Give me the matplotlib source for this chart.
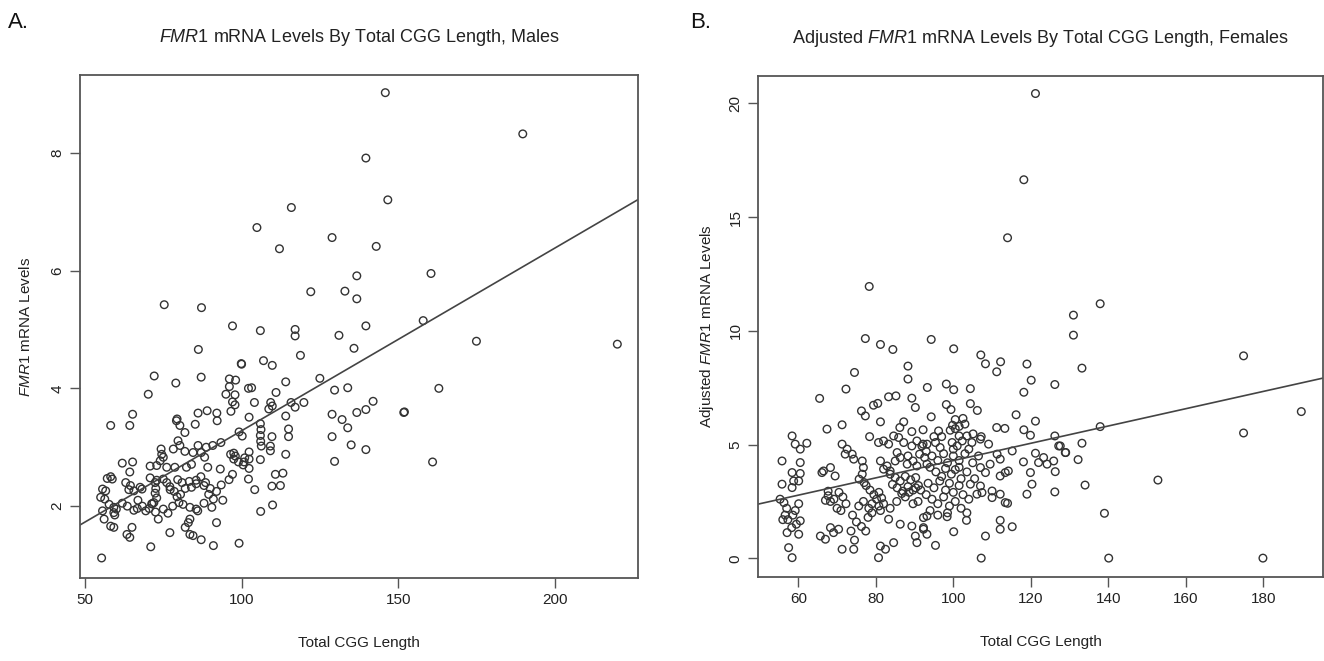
import matplotlib
matplotlib.use("Agg")
import matplotlib.pyplot as plt
import numpy as np

plt.rcParams['font.family'] = ['Liberation Sans', 'DejaVu Sans']
plt.rcParams['mathtext.fontset'] = 'custom'
plt.rcParams['mathtext.rm'] = 'Liberation Sans'
plt.rcParams['mathtext.it'] = 'Liberation Sans:italic'

# ---------------- Panel A: males ----------------
male_cgg = [
    145.9, 189.8, 139.7, 146.7, 115.9, 104.9, 128.9, 143.0, 112.1, 136.8, 122.1, 133.0, 136.8,
    106.0, 117.1, 117.1, 139.7, 131.1, 135.9, 118.8, 107.0, 109.8, 100.0, 114.1, 125.0, 103.2,
    111.0, 129.7, 133.9, 104.1, 109.3, 109.8, 115.8, 117.1, 119.9, 142.0, 139.7, 136.8, 128.9,
    151.8, 114.1, 108.7, 102.4, 132.1, 133.9, 128.9, 135.0, 139.7, 129.7, 115.0, 115.0, 109.7,
    106.0, 106.2, 106.0, 106.1, 106.3, 114.1, 106.0, 109.2, 109.2, 102.4, 102.4, 100.8, 102.4,
    102.2, 97.5, 98.0, 110.8, 113.2, 109.7, 112.4, 104.2, 109.9, 106.1, 99.2,
    75.3, 87.2, 97.1, 86.2, 99.9, 72.1, 87.1, 79.0, 96.1, 98.1, 96.1, 95.0, 97.9, 70.2, 97.1,
    97.9, 65.2, 86.1, 89.0, 92.1, 96.6, 102.2, 79.4, 58.2, 64.3, 79.2, 80.3, 81.9, 85.2, 92.2,
    99.2, 100.2, 79.7, 80.3, 74.3, 74.5, 75.0, 74.0, 78.2, 81.9, 86.1, 88.7, 90.8, 93.4, 84.5,
    87.1, 88.2, 96.5, 97.5, 99.0, 100.5, 101.0, 61.9, 65.2, 70.8, 72.9, 76.1, 78.7, 82.4, 84.0,
    89.2, 93.2, 97.1, 64.3, 57.1, 58.7, 58.2, 63.0, 64.5, 64.0, 65.6, 67.6, 68.2, 70.8, 72.4,
    72.9, 75.0, 76.1, 77.1, 79.6, 81.0, 83.3, 85.5, 87.0, 88.5, 72.6, 72.4, 72.9, 72.0, 71.5,
    77.2, 78.5, 79.4, 80.5, 82.0, 84.0, 85.5, 88.0, 90.0, 92.0, 89.5, 91.0, 93.5, 96.0, 55.6,
    56.6, 56.3, 57.7, 55.0, 59.2, 59.2, 60.0, 59.5, 55.6, 56.1, 61.9, 63.5, 66.9, 65.6, 66.7,
    68.3, 69.4, 70.5, 71.3, 72.5, 75.0, 76.5, 78.0, 80.0, 81.3, 83.5, 85.5, 86.0, 83.5, 83.0,
    82.0, 83.5, 73.4, 58.2, 59.2, 65.0, 63.4, 64.3, 77.1, 71.0, 84.5, 87.1, 91.0, 55.3, 88.0,
    90.5, 92.0, 94.0,
    160.5, 158.0, 175.0, 163.0, 161.0, 152.0, 220.0,
]
male_mrna = [
    9.02, 8.32, 7.91, 7.20, 7.07, 6.73, 6.56, 6.41, 6.37, 5.91, 5.64, 5.65, 5.52,
    4.98, 5.00, 4.89, 5.06, 4.90, 4.68, 4.56, 4.47, 4.39, 4.41, 4.11, 4.17, 4.01,
    3.93, 3.97, 4.01, 3.76, 3.76, 3.70, 3.76, 3.68, 3.76, 3.78, 3.64, 3.59, 3.56,
    3.59, 3.53, 3.65, 3.51, 3.47, 3.33, 3.18, 3.04, 2.96, 2.76, 3.31, 3.18, 3.18,
    3.40, 3.30, 3.20, 3.10, 3.02, 2.88, 2.79, 2.94, 3.02, 2.92, 2.80, 2.75, 2.64,
    2.46, 2.90, 2.85, 2.54, 2.56, 2.34, 2.35, 2.28, 2.02, 1.91, 1.37,
    5.42, 5.37, 5.06, 4.66, 4.42, 4.21, 4.19, 4.09, 4.16, 4.14, 4.03, 3.90, 3.89, 3.90, 3.77,
    3.72, 3.56, 3.58, 3.62, 3.58, 3.61, 4.00, 3.48, 3.37, 3.37, 3.45, 3.37, 3.25, 3.39, 3.45,
    3.26, 3.19, 3.11, 3.03, 2.97, 2.88, 2.83, 2.77, 2.97, 2.93, 3.03, 3.00, 3.03, 3.08, 2.91,
    2.91, 2.83, 2.88, 2.80, 2.75, 2.70, 2.82, 2.73, 2.75, 2.68, 2.69, 2.66, 2.66, 2.66, 2.71,
    2.66, 2.63, 2.54, 2.58, 2.47, 2.46, 2.50, 2.40, 2.35, 2.28, 2.26, 2.32, 2.29, 2.48, 2.40,
    2.44, 2.46, 2.40, 2.33, 2.45, 2.40, 2.42, 2.44, 2.50, 2.40, 2.30, 2.22, 2.14, 2.06, 2.04,
    2.28, 2.25, 2.16, 2.20, 2.30, 2.32, 2.38, 2.35, 2.30, 2.25, 2.20, 2.12, 2.36, 2.45, 2.29,
    2.26, 2.12, 2.03, 2.15, 1.98, 1.89, 1.95, 1.85, 1.92, 1.78, 2.05, 2.00, 2.10, 1.93, 1.96,
    2.00, 1.92, 1.96, 2.04, 1.90, 1.95, 1.88, 2.00, 2.06, 2.03, 1.98, 1.95, 1.92, 1.78, 1.72,
    1.64, 1.52, 1.78, 1.66, 1.64, 1.64, 1.52, 1.47, 1.55, 1.31, 1.50, 1.43, 1.33, 1.12, 2.05,
    1.98, 1.72, 2.10,
    5.95, 5.15, 4.80, 4.00, 2.75, 3.60, 4.75,
]
male_fit = [0.18, 0.031]   # intercept, slope

# ---------------- Panel B: females ----------------
female_cgg = [
    121.2, 118.2, 114.0, 78.3, 137.9, 131.0, 131.0, 133.2, 174.9, 189.8, 137.9, 174.9, 127.6,
    133.2, 129.0, 132.2, 134.0, 152.8, 139.0, 140.1, 179.9, 94.3, 100.1, 107.1, 108.3, 112.2,
    111.2, 119.0, 120.1, 118.2, 126.2, 93.3, 98.2, 100.1, 104.4, 98.2, 99.4, 104.4, 106.2,
    94.3, 116.2, 121.2, 100.5, 102.5, 103.0, 99.8, 101.5, 100.5, 92.2, 96.2, 99.2, 111.2,
    113.3, 118.2, 119.9, 105.1, 107.2, 126.2, 95.0, 97.0, 101.5, 103.5, 77.3, 81.2, 84.4,
    88.3, 88.3, 74.5, 72.3, 65.5, 83.3, 85.2, 89.3, 79.4, 80.5, 90.2, 76.3, 77.3, 81.2, 87.2,
    86.2, 89.3, 71.3, 67.4, 58.4, 78.4, 84.6, 85.9,
    59.2, 60.5, 62.2, 55.8, 60.5, 58.4, 60.5, 58.8, 60.1, 58.4, 55.8, 71.3, 72.6, 73.9, 72.1,
    74.3, 66.5, 68.3, 66.1, 69.5, 76.5, 76.8, 76.5, 75.7, 77.0, 81.2, 82.0, 83.7, 82.9, 80.7,
    82.0, 83.3, 87.2, 89.3, 90.6, 91.9, 93.2, 85.5, 86.3, 85.0, 88.3, 89.6, 91.3, 92.6, 88.1,
    90.6, 93.2, 83.7, 85.0, 86.3, 87.6, 89.0, 90.3, 84.3, 85.5, 87.0, 88.3, 89.6, 91.0, 77.5,
    78.5, 79.5, 80.8, 80.2, 81.5, 79.0, 80.8, 82.0, 70.5, 71.5, 72.3, 69.2, 70.0, 71.0, 67.7,
    67.7, 68.3, 67.0, 55.3, 56.3, 57.0, 56.6, 56.0, 57.3, 58.6, 59.2, 60.1, 60.5, 59.5, 58.3,
    57.1, 60.1, 57.5, 58.4, 65.7, 67.0, 68.3, 69.1, 70.4, 71.3, 74.3, 74.0, 75.0, 76.3, 77.4,
    78.0, 73.6, 74.5, 81.2, 82.5, 80.7, 84.6, 83.3, 86.3, 89.3, 90.2, 90.6, 92.3, 93.2, 78.2,
    79.0, 76.8, 75.6, 81.2, 83.7, 85.4, 87.6, 89.6, 90.9, 91.6, 90.3, 88.6, 86.7,
    92.2, 95.4, 96.6, 99.7, 101.0, 102.3, 104.8, 107.0, 109.1, 115.2, 121.2, 123.3, 125.9,
    127.2, 128.9, 122.0, 124.2, 118.1, 119.9, 119.0, 120.3, 126.3, 126.2, 107.0, 108.3, 109.5,
    111.3, 112.1, 112.1, 113.4, 114.2, 104.4, 107.0, 107.4, 106.1, 110.0, 110.0, 112.1, 113.4,
    114.0, 103.4, 100.1, 108.3, 112.1, 112.1, 115.2, 107.2, 98.4, 95.4, 93.2, 92.3, 92.3,
    93.0, 94.5, 96.0, 97.5, 98.5, 100.0, 101.5, 103.0, 94.0, 95.5, 97.0, 98.0, 99.5, 100.5,
    102.0, 103.5, 105.0, 93.5, 95.0, 96.5, 98.0, 99.0, 100.0, 101.5, 102.5, 104.0, 93.0, 94.5,
    96.0, 97.5, 99.0, 100.5, 102.0, 103.5, 94.0, 96.0, 98.5, 100.0, 101.5, 105.5, 106.5, 104.0,
]
female_mrna = [
    20.43, 16.64, 14.09, 11.95, 11.19, 10.69, 9.81, 8.36, 8.90, 6.45, 5.79, 5.51, 4.94,
    5.06, 4.65, 4.34, 3.22, 3.44, 1.98, 0.01, 0.01, 9.62, 9.21, 8.94, 8.55, 8.64,
    8.20, 8.54, 7.83, 7.30, 7.64, 7.51, 7.66, 7.41, 7.46, 6.76, 6.54, 6.80, 6.50,
    6.22, 6.31, 6.03, 6.10, 6.15, 5.90, 5.85, 5.80, 5.70, 5.65, 5.60, 5.63, 5.75,
    5.71, 5.65, 5.41, 5.47, 5.35, 5.38, 5.35, 5.35, 5.38, 5.38, 9.66, 9.40, 9.18,
    8.45, 7.88, 8.17, 7.44, 7.03, 7.10, 7.14, 7.04, 6.73, 6.81, 6.63, 6.48, 6.26, 6.00, 6.00,
    5.75, 5.57, 5.87, 5.68, 5.38, 5.35, 5.38, 5.31,
    5.02, 4.80, 5.06, 4.28, 4.21, 3.77, 3.73, 3.40, 3.40, 3.11, 3.26, 5.02, 4.80, 4.58, 4.58,
    4.36, 3.84, 3.99, 3.77, 3.62, 4.28, 3.99, 3.70, 3.48, 3.33, 4.28, 3.92, 3.84, 4.06, 5.09,
    5.16, 5.02, 5.09, 4.94, 5.16, 4.94, 5.02, 4.65, 4.43, 4.28, 4.50, 4.28, 4.58, 4.43, 4.14,
    4.06, 4.14, 3.70, 3.55, 3.40, 3.60, 3.45, 3.55, 3.25, 3.10, 2.95, 3.15, 3.00, 3.20, 3.20,
    3.00, 2.80, 2.90, 2.60, 2.65, 2.40, 2.30, 2.40, 2.90, 2.70, 2.40, 2.60, 2.20, 2.10, 2.95,
    2.75, 2.50, 2.55, 2.60, 2.45, 2.20, 1.90, 1.70, 1.70, 1.90, 2.10, 2.40, 1.65, 1.50, 1.35,
    1.13, 1.06, 0.47, 0.03, 0.98, 0.84, 1.35, 1.13, 1.28, 0.40, 0.40, 1.90, 1.60, 1.40, 1.20,
    1.80, 1.20, 0.80, 0.54, 0.40, 0.03, 0.69, 1.72, 1.50, 1.42, 0.98, 0.69, 1.28, 1.86, 2.20,
    2.00, 2.50, 2.30, 2.10, 2.20, 2.50, 2.70, 2.40, 2.50, 3.00, 3.10, 2.90, 2.85,
    5.02, 5.09, 4.87, 5.09, 4.94, 5.16, 5.09, 5.24, 5.02, 4.72, 4.62, 4.43, 4.28,
    4.94, 4.65, 4.21, 4.14, 4.24, 3.77, 2.82, 3.26, 3.81, 2.92, 3.99, 3.77, 4.14,
    4.58, 4.36, 3.62, 3.77, 3.84, 3.26, 3.18, 2.89, 2.82, 2.96, 2.67, 2.82, 2.45,
    2.42, 1.67, 1.17, 0.98, 1.67, 1.28, 1.39, 0.01, 1.83, 0.57, 1.06, 1.35, 1.79,
    4.70, 4.50, 4.30, 4.60, 4.20, 4.50, 4.30, 4.60, 4.00, 3.80, 3.60, 3.95, 3.70, 3.90,
    3.50, 3.80, 4.20, 3.30, 3.10, 3.40, 3.00, 3.30, 2.90, 3.20, 2.80, 2.60, 2.80, 2.60,
    2.40, 2.70, 2.30, 2.50, 2.20, 2.00, 2.10, 1.90, 2.00, 4.80, 4.00, 3.50, 4.50, 4.80,
]
female_fit = [0.497, 0.038]

W, H = 1324, 661
fig = plt.figure(figsize=(W / 100, H / 100), dpi=100)

def px_axes(x0, y0, x1, y1):
    return fig.add_axes([x0 / W, 1 - y1 / H, (x1 - x0) / W, (y1 - y0) / H])

axA = px_axes(80, 75, 638, 578)
axB = px_axes(758, 76, 1323, 577)

edge = '#333333'

def style(ax):
    for s in ax.spines.values():
        s.set_color('#555555')
        s.set_linewidth(1.3)
    ax.tick_params(direction='out', length=7, width=1.0, color='#555555',
                   labelsize=11, labelcolor='#222222', pad=4)
    for lab in ax.get_yticklabels():
        lab.set_rotation(90)
        lab.set_va('center')

# Panel A
axA.scatter(male_cgg, male_mrna, s=30, facecolors='none', edgecolors=edge, linewidths=1.0)
xl = np.array([48.4, 226.6])
axA.plot(xl, male_fit[0] + male_fit[1] * xl, color='#444444', lw=1.2)
axA.set_xlim(48.4, 226.6)
axA.set_ylim(0.78, 9.32)
axA.set_xticks([50, 100, 150, 200])
axA.set_yticks([2, 4, 6, 8])
style(axA)
axA.set_xlabel('Total CGG Length', fontsize=11, labelpad=21, color='#222222')
axA.set_ylabel(r'$\it{FMR}$1 mRNA Levels', fontsize=11, labelpad=13, color='#222222')
axA.set_title(r'$\it{FMR}$1 mRNA Levels By Total CGG Length, Males', fontsize=13, pad=24,
              color='#222222')

# Panel B
axB.scatter(female_cgg, female_mrna, s=30, facecolors='none', edgecolors=edge, linewidths=1.0)
xr = np.array([49.6, 195.4])
axB.plot(xr, female_fit[0] + female_fit[1] * xr, color='#444444', lw=1.2)
axB.set_xlim(49.6, 195.4)
axB.set_ylim(-0.82, 21.2)
axB.set_xticks([60, 80, 100, 120, 140, 160, 180])
axB.set_yticks([0, 5, 10, 15, 20])
style(axB)
axB.set_xlabel('Total CGG Length', fontsize=11, labelpad=21, color='#222222')
axB.set_ylabel(r'Adjusted $\it{FMR}$1 mRNA Levels', fontsize=11, labelpad=9, color='#222222')
axB.set_title(r'Adjusted $\it{FMR}$1 mRNA Levels By Total CGG Length, Females', fontsize=13,
              pad=24, color='#222222')

fig.text(8 / W, 1 - 22 / H, 'A.', fontsize=16, va='center', ha='left', color='#111111')
fig.text(690 / W, 1 - 22 / H, 'B.', fontsize=16, va='center', ha='left', color='#111111')

fig.savefig('out.png', dpi=100)
